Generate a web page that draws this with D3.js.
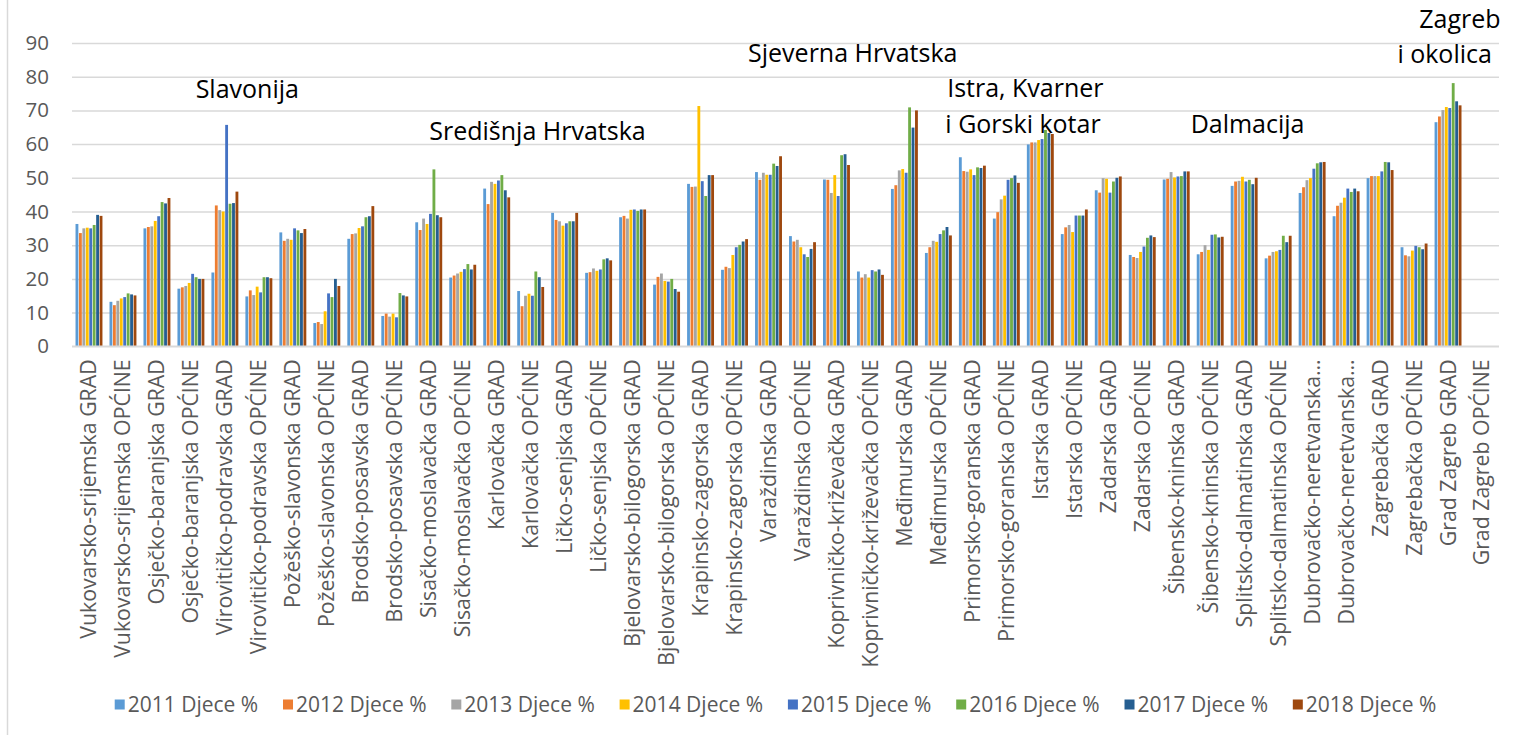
<!DOCTYPE html>
<html>
<head>
<meta charset="utf-8">
<script src="https://cdn.jsdelivr.net/npm/d3@7"></script>
<style>
  html, body { margin: 0; padding: 0; background: #fff; }
  svg { display: block; font-family: "Open Sans", "Noto Sans", sans-serif; }
</style>
</head>
<body>
<svg id="chart" width="1521" height="735"></svg>
<script>
// Counties split into towns (GRAD) and municipalities (OPĆINE)
const categories = [
  "Vukovarsko-srijemska GRAD", "Vukovarsko-srijemska OPĆINE",
  "Osječko-baranjska GRAD", "Osječko-baranjska OPĆINE",
  "Virovitičko-podravska GRAD", "Virovitičko-podravska OPĆINE",
  "Požeško-slavonska GRAD", "Požeško-slavonska OPĆINE",
  "Brodsko-posavska GRAD", "Brodsko-posavska OPĆINE",
  "Sisačko-moslavačka GRAD", "Sisačko-moslavačka OPĆINE",
  "Karlovačka GRAD", "Karlovačka OPĆINE",
  "Ličko-senjska GRAD", "Ličko-senjska OPĆINE",
  "Bjelovarsko-bilogorska GRAD", "Bjelovarsko-bilogorska OPĆINE",
  "Krapinsko-zagorska GRAD", "Krapinsko-zagorska OPĆINE",
  "Varaždinska GRAD", "Varaždinska OPĆINE",
  "Koprivničko-križevačka GRAD", "Koprivničko-križevačka OPĆINE",
  "Međimurska GRAD", "Međimurska OPĆINE",
  "Primorsko-goranska GRAD", "Primorsko-goranska OPĆINE",
  "Istarska GRAD", "Istarska OPĆINE",
  "Zadarska GRAD", "Zadarska OPĆINE",
  "Šibensko-kninska GRAD", "Šibensko-kninska OPĆINE",
  "Splitsko-dalmatinska GRAD", "Splitsko-dalmatinska OPĆINE",
  "Dubrovačko-neretvanska GRAD", "Dubrovačko-neretvanska OPĆINE",
  "Zagrebačka GRAD", "Zagrebačka OPĆINE",
  "Grad Zagreb GRAD", "Grad Zagreb OPĆINE"
];

// Axis labels as printed (long ones shortened)
const tickLabels = categories.map(c =>
  c.startsWith("Dubrovačko-neretvanska") ? "Dubrovačko-neretvanska…" : c);

const seriesNames = ["2011 Djece %", "2012 Djece %", "2013 Djece %", "2014 Djece %",
                     "2015 Djece %", "2016 Djece %", "2017 Djece %", "2018 Djece %"];

const v2011 = [36.3, 13.2, 35.0, 17.1, 21.9, 14.8, 33.8, 6.9, 31.9, 9.0, 36.8, 20.4, 46.8, 16.4, 39.6, 21.8, 38.3, 18.3, 48.2, 22.7, 51.7, 32.7, 49.5, 22.2, 46.7, 27.7, 56.1, 37.9, 59.9, 33.3, 46.3, 27.1, 49.5, 27.3, 47.6, 26.1, 45.5, 38.6, 49.9, 29.4, 66.5, null];
const v2012 = [33.6, 12.2, 35.4, 17.5, 41.8, 16.6, 31.3, 7.2, 33.3, 9.7, 34.5, 21.0, 42.2, 11.9, 37.5, 22.0, 38.7, 20.6, 47.3, 23.6, 49.4, 31.1, 49.4, 20.4, 47.8, 29.4, 52.0, 39.8, 60.5, 35.3, 45.6, 26.5, 49.7, 28.0, 48.9, 26.9, 47.2, 41.7, 50.5, 27.0, 68.2, null];
const v2013 = [35.0, 13.5, 35.6, 17.9, 40.4, 15.2, 31.9, 6.6, 33.5, 8.8, 37.9, 21.6, 48.8, 15.0, 37.1, 23.1, 37.9, 21.6, 47.4, 23.2, 51.5, 31.6, 45.5, 21.4, 52.2, 31.3, 51.8, 43.6, 60.5, 36.0, 49.9, 26.2, 51.7, 30.0, 49.1, 28.0, 49.3, 42.6, 50.5, 26.7, 70.1, null];
const v2014 = [35.2, 14.2, 37.2, 18.8, 40.0, 17.7, 31.6, 10.4, 35.1, 9.7, 36.3, 22.1, 48.2, 15.6, 35.8, 22.4, 40.5, 19.4, 71.3, 27.1, 50.9, 29.4, 50.8, 20.4, 52.6, 31.0, 52.5, 44.7, 61.2, 33.9, 49.7, 28.0, 50.1, 28.6, 50.3, 28.2, 49.9, 44.1, 50.5, 28.4, 71.0, null];
const v2015 = [35.0, 14.6, 38.6, 21.5, 65.7, 16.0, 35.0, 15.7, 35.6, 8.6, 39.3, 22.9, 49.2, 15.0, 36.5, 22.8, 40.6, 19.2, 49.0, 29.4, 50.9, 27.3, 44.6, 22.6, 51.5, 33.3, 50.8, 49.4, 61.5, 38.8, 45.6, 29.6, 50.4, 33.1, 48.9, 28.6, 52.7, 46.8, 51.9, 29.8, 70.7, null];
const v2016 = [36.0, 15.7, 42.8, 20.5, 42.3, 20.5, 34.4, 14.6, 38.3, 15.8, 52.5, 24.4, 50.8, 22.2, 37.1, 25.8, 40.2, 20.0, 44.6, 30.1, 54.2, 26.5, 56.7, 22.2, 70.9, 34.4, 53.1, 49.9, 64.2, 38.8, 48.9, 32.2, 50.5, 33.2, 49.4, 32.8, 54.3, 45.8, 54.7, 29.4, 78.1, null];
const v2017 = [39.0, 15.4, 42.4, 20.0, 42.5, 20.5, 33.6, 20.0, 38.6, 15.1, 38.9, 22.8, 46.3, 20.5, 37.1, 26.1, 40.6, 17.0, 50.8, 31.1, 53.5, 28.9, 57.0, 22.8, 64.9, 35.4, 52.9, 50.7, 63.3, 38.8, 50.0, 32.9, 51.9, 32.3, 48.1, 30.9, 54.6, 46.8, 54.6, 28.8, 72.7, null];
const v2018 = [38.7, 15.1, 44.0, 20.0, 45.9, 20.2, 34.8, 17.9, 41.6, 14.8, 38.3, 24.2, 44.2, 17.6, 39.6, 25.5, 40.6, 16.2, 50.8, 31.8, 56.4, 30.9, 53.8, 21.2, 70.0, 32.9, 53.6, 48.5, 63.0, 40.6, 50.4, 32.4, 51.9, 32.5, 50.0, 32.8, 54.7, 46.0, 52.3, 30.5, 71.5, null];

const seriesValues = [v2011, v2012, v2013, v2014, v2015, v2016, v2017, v2018];
const yTicks = [0, 10, 20, 30, 40, 50, 60, 70, 80, 90];

// Region captions: anchored at a fractional category position and a value
const regionLabels = [
  { text: "Slavonija",          at: 5.16,  value: 73.7 },
  { text: "Središnja Hrvatska", at: 13.7,  value: 61.1 },
  { text: "Sjeverna Hrvatska",  at: 22.98, value: 84.4 },
  { text: "Istra, Kvarner",     at: 28.06, value: 74.0 },
  { text: "i Gorski kotar",     at: 27.99, value: 63.3 },
  { text: "Dalmacija",          at: 34.6,  value: 63.3 },
  { text: "Zagreb",             at: 40.85, value: 94.5 },
  { text: "i okolica",          at: 40.4,  value: 84.2 }
];

const colors = ["#5B9BD5", "#ED7D31", "#A5A5A5", "#FFC000", "#4472C4", "#70AD47", "#255E91", "#9E480E"];

// ---- layout ----
const svg = d3.select("#chart");
const plot = { left: 72, right: 1499, top: 43, bottom: 346.3 };

svg.append("rect").attr("width", 1521).attr("height", 735).attr("fill", "#fff");
// chart area frame (left edge visible)
svg.append("line").attr("x1", 7.5).attr("x2", 7.5).attr("y1", 0).attr("y2", 735)
  .attr("stroke", "#d9d9d9").attr("stroke-width", 1.5);

const x0 = d3.scaleBand().domain(d3.range(categories.length))
  .range([plot.left, plot.right]).paddingInner(0.19).paddingOuter(0.095);
const x1 = d3.scaleBand().domain(d3.range(seriesNames.length)).range([0, x0.bandwidth()]);
const y = d3.scaleLinear().domain([0, 90]).range([plot.bottom, plot.top]);
const xPos = d3.scaleLinear().domain([0, categories.length]).range([plot.left, plot.right]);

// gridlines
const yAxis = d3.axisLeft(y).tickValues(yTicks).tickSize(-(plot.right - plot.left)).tickPadding(23);
const gy = svg.append("g").attr("transform", `translate(${plot.left},0)`).call(yAxis);
gy.select(".domain").remove();
gy.selectAll(".tick line").attr("stroke", "#d9d9d9").attr("stroke-width", 1.5);
gy.selectAll(".tick text").attr("fill", "#595959").attr("font-size", 20.5)
  .attr("font-family", '"Open Sans", sans-serif');

// bars
const groups = svg.append("g").selectAll("g").data(categories).join("g")
  .attr("transform", (d, i) => `translate(${x0(i)},0)`);
groups.selectAll("rect")
  .data((d, i) => seriesValues.map((vals, s) => ({ s, v: vals[i] })).filter(e => e.v != null))
  .join("rect")
  .attr("x", e => x1(e.s) + 0.3)
  .attr("width", x1.bandwidth() - 0.6)
  .attr("y", e => y(e.v))
  .attr("height", e => y(0) - y(e.v))
  .attr("fill", e => colors[e.s]);

// category axis
const xAxis = d3.axisBottom(x0).tickSize(0).tickFormat(i => tickLabels[i]);
const gx = svg.append("g").attr("transform", `translate(0,${plot.bottom})`).call(xAxis);
gx.select(".domain").attr("stroke", "#d9d9d9").attr("stroke-width", 1.5)
  .attr("d", `M${plot.left},0H${plot.right}`);
gx.selectAll(".tick text")
  .attr("fill", "#595959").attr("font-size", 21.3)
  .attr("font-family", '"Open Sans", sans-serif')
  .attr("transform", "rotate(-90)")
  .attr("x", -13).attr("y", 0).attr("dy", "0.35em")
  .attr("text-anchor", "end");

// region captions
svg.append("g").selectAll("text").data(regionLabels).join("text")
  .attr("x", d => xPos(d.at)).attr("y", d => y(d.value))
  .attr("text-anchor", "middle")
  .attr("font-size", 25).attr("fill", "#000")
  .text(d => d.text);

// legend: fixed pitch between swatches, centred under the plot
const legendPitch = 168.3;
const legend = svg.append("g").attr("font-size", 21).attr("fill", "#595959");
const items = legend.selectAll("g").data(seriesNames).join("g")
  .attr("transform", (d, i) => `translate(${i * legendPitch},0)`);
items.append("rect").attr("width", 10).attr("height", 10).attr("y", -5.5)
  .attr("fill", (d, i) => colors[i]);
items.append("text").attr("x", 13).attr("dy", "0.35em").text(d => d);
const lastWidth = items.filter((d, i) => i === seriesNames.length - 1).node().getBBox().width;
const total = (seriesNames.length - 1) * legendPitch + lastWidth;
legend.attr("transform", `translate(${775.5 - total / 2},705)`);
</script>
</body>
</html>
